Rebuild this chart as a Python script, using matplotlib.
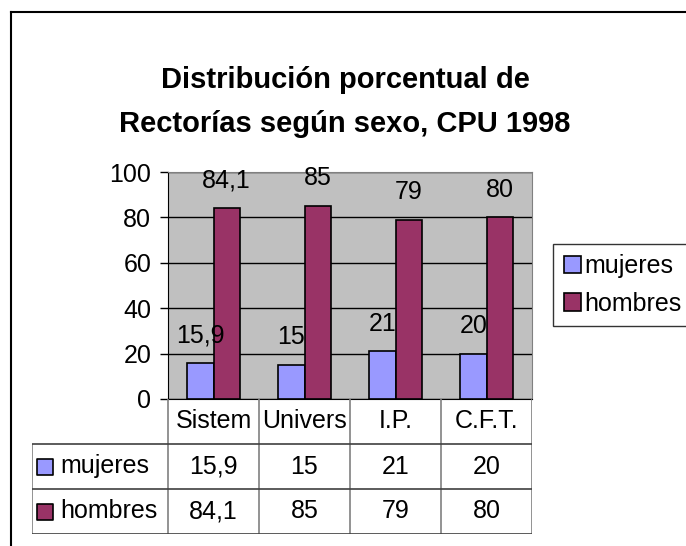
import numpy as np
import matplotlib.pyplot as plt
from matplotlib.lines import Line2D

plt.rcParams['font.family'] = ['Liberation Sans', 'DejaVu Sans']

# ===================== Datos =====================
categorias = ['Sistem', 'Univers', 'I.P.', 'C.F.T.']
series = ['mujeres', 'hombres']
mujeres = [15.9, 15, 21, 20]
hombres = [84.1, 85, 79, 80]
etiquetas_mujeres = ['15,9', '15', '21', '20']
etiquetas_hombres = ['84,1', '85', '79', '80']
yticks = [0, 20, 40, 60, 80, 100]

c_muj = '#9999FF'
c_hom = '#993366'
gris = '#808080'
oscuro = '#404040'
fs = 18

W, H = 686, 546
fig = plt.figure(figsize=(W / 100, H / 100), dpi=100)

# marco exterior (recortado por la derecha y abajo)
fig.add_artist(Line2D([11 / W, 1.0], [1 - 12 / H, 1 - 12 / H], color='black', lw=1.5))
fig.add_artist(Line2D([11 / W, 11 / W], [0.0, 1 - 12 / H], color='black', lw=1.5))

fig.text(345 / W, 1 - 80 / H, 'Distribución porcentual de', ha='center', va='center',
         fontsize=21, fontweight='bold')
fig.text(345 / W, 1 - 124 / H, 'Rectorías según sexo, CPU 1998', ha='center', va='center',
         fontsize=21, fontweight='bold')

# ===================== Gráfico de barras =====================
# área de trazado: x 168..532, y 172..399 px
ax = fig.add_axes([168 / W, 1 - 399 / H, 364 / W, 227 / H])
ax.set_facecolor('#C0C0C0')

x = np.arange(len(categorias))
bw = 0.286
b1 = ax.bar(x - bw / 2, mujeres, bw, color=c_muj, edgecolor='black', linewidth=1.2,
            label='mujeres', zorder=3)
b2 = ax.bar(x + bw / 2, hombres, bw, color=c_hom, edgecolor='black', linewidth=1.2,
            label='hombres', zorder=3)

for barras, etiquetas in [(b1, etiquetas_mujeres), (b2, etiquetas_hombres)]:
    for b, t in zip(barras, etiquetas):
        ax.annotate(t, (b.get_x() + b.get_width() / 2, b.get_height()),
                    xytext=(0, 20), textcoords='offset points',
                    ha='center', va='center', fontsize=fs, zorder=5)

ax.set_xlim(-0.5, len(categorias) - 0.5)
ax.set_ylim(0, 100)
ax.set_yticks(yticks)
ax.tick_params(axis='y', labelsize=fs, length=6, width=1, direction='out', pad=6)
ax.set_xticks([])
ax.grid(axis='y', color='black', linewidth=1, zorder=1)
ax.set_axisbelow(True)
for s in ['top', 'right']:
    ax.spines[s].set_color(gris)
ax.spines['left'].set_color('black')
ax.spines['bottom'].set_color('black')
ax.spines['bottom'].set_zorder(4)

# ===================== Tabla de datos =====================
# mismas columnas que el gráfico; columna de rótulos a la izquierda
ancho_rotulo = 136 / 91
tax = fig.add_axes([32 / W, 1 - 534 / H, 500 / W, 135 / H])
izq = -0.5 - ancho_rotulo
tax.set_xlim(izq, len(categorias) - 0.5)
tax.set_ylim(0, 3)
tax.axis('off')

bordes = np.arange(len(categorias) + 1) - 0.5
tax.vlines(bordes, 0, 3, color=gris, lw=1.2)
tax.vlines([izq], 0, 2, color=gris, lw=1.2)
tax.hlines([0, 1, 2], izq, bordes[-1], color=oscuro, lw=1.2)

for i, cat in enumerate(categorias):
    tax.text(i, 2.5, cat, ha='center', va='center', fontsize=fs)
filas = [(etiquetas_mujeres, c_muj), (etiquetas_hombres, c_hom)]
for r, ((etiquetas, col), nombre) in enumerate(zip(filas, series)):
    yc = 1.5 - r
    for i, t in enumerate(etiquetas):
        tax.text(i, yc, t, ha='center', va='center', fontsize=fs)
    tax.scatter([izq + 13 / 91], [yc], marker='s', s=125, color=col,
                edgecolor='black', linewidth=1.2, clip_on=False, zorder=3)
    tax.text(izq + 28 / 91, yc, nombre, ha='left', va='center', fontsize=fs)

# ===================== Leyenda =====================
leg = fig.legend(handles=[b1, b2], labels=series, loc='center left',
                 bbox_to_anchor=(553 / W, 1 - 285 / H), fontsize=fs,
                 handlelength=0.7, handleheight=0.7, handletextpad=0.12,
                 borderpad=0.42, labelspacing=0.55, borderaxespad=0, fancybox=False)
leg.get_frame().set_edgecolor('black')
leg.get_frame().set_linewidth(1)

fig.savefig('out.png', dpi=100)
